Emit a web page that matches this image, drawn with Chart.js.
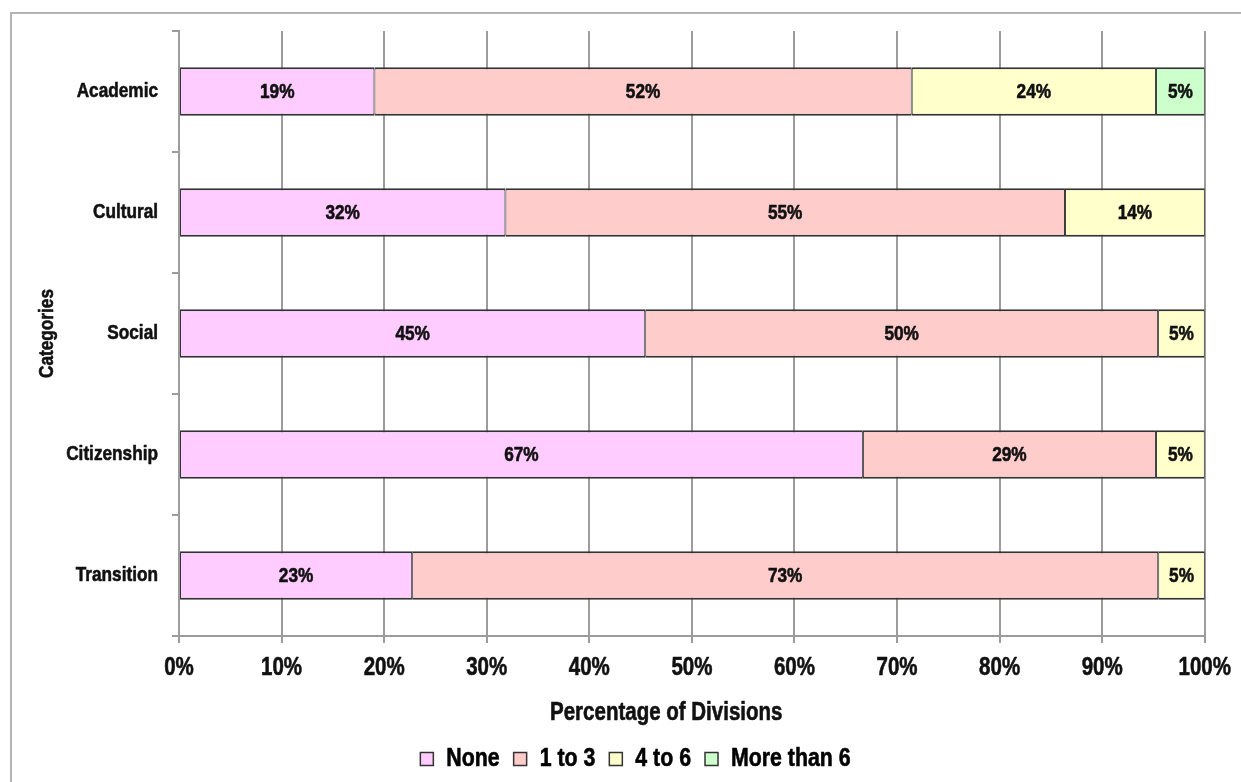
<!DOCTYPE html>
<html>
<head>
<meta charset="utf-8">
<script src="https://cdn.jsdelivr.net/npm/chart.js@4/dist/chart.umd.min.js"></script>
<style>
  html, body { margin: 0; padding: 0; background: #fff; overflow: hidden; }
  #frame { position: absolute; left: 10px; top: 12px; width: 1400px; height: 900px; border: 2px solid #b4b4b4; box-sizing: border-box; }
  #wrap { position: absolute; left: 0; top: 0; width: 1241px; height: 782px; }
</style>
</head>
<body>
<div id="frame"></div>
<div id="wrap"><canvas id="c" width="1241" height="782"></canvas></div>
<script>
const categories = ['Academic', 'Cultural', 'Social', 'Citizenship', 'Transition'];
const seriesNames = ['None', '1 to 3', '4 to 6', 'More than 6'];
const noneValues = [19.05, 31.82, 45.45, 66.67, 22.73];
const oneToThreeValues = [52.38, 54.55, 50.00, 28.57, 72.73];
const fourToSixValues = [23.81, 13.64, 4.55, 4.76, 4.55];
const moreThanSixValues = [4.76, null, null, null, null];
const xTickLabels = ['0%', '10%', '20%', '30%', '40%', '50%', '60%', '70%', '80%', '90%', '100%'];
const xAxisTitle = 'Percentage of Divisions';
const yAxisTitle = 'Categories';

const FONT = "'Liberation Sans', Arial, sans-serif";
const colors = ['#FFCCFF', '#FFCCCC', '#FFFFCC', '#CCFFCC'];
const seriesValues = [noneValues, oneToThreeValues, fourToSixValues, moreThanSixValues];

// Simulate a narrow (condensed) heavy bold face: compress text horizontally.
const canvas = document.getElementById('c');
const ctx2d = canvas.getContext('2d');
const SX = 0.82;
const origFill = ctx2d.fillText.bind(ctx2d);
const origStroke = ctx2d.strokeText.bind(ctx2d);
const origMeasure = ctx2d.measureText.bind(ctx2d);
ctx2d.fillText = function (text, x, y, maxWidth) {
  this.save();
  this.translate(x, y);
  this.scale(SX, 1);
  origFill(text, 0, 0);
  this.lineWidth = 0.6;
  this.lineJoin = 'round';
  this.strokeStyle = this.fillStyle;
  origStroke(text, 0, 0);
  this.restore();
};
ctx2d.measureText = function (text) {
  const m = origMeasure(text);
  return {
    width: m.width * SX,
    actualBoundingBoxAscent: m.actualBoundingBoxAscent,
    actualBoundingBoxDescent: m.actualBoundingBoxDescent,
    actualBoundingBoxLeft: m.actualBoundingBoxLeft * SX,
    actualBoundingBoxRight: m.actualBoundingBoxRight * SX,
    fontBoundingBoxAscent: m.fontBoundingBoxAscent,
    fontBoundingBoxDescent: m.fontBoundingBoxDescent
  };
};

const barLabels = {
  id: 'barLabels',
  afterDatasetsDraw(chart) {
    const ctx = chart.ctx;
    ctx.save();
    ctx.font = "bold 21px " + FONT;
    ctx.fillStyle = '#111';
    ctx.textAlign = 'center';
    ctx.textBaseline = 'middle';
    chart.data.datasets.forEach((ds, i) => {
      const meta = chart.getDatasetMeta(i);
      meta.data.forEach((el, j) => {
        const v = ds.data[j];
        if (v === null || v === undefined || v === 0) return;
        const p = el.getCenterPoint();
        ctx.fillText(Math.round(v) + '%', p.x, p.y + 1);
      });
    });
    ctx.restore();
  }
};

const xTitlePlugin = {
  id: 'xTitle',
  afterDraw(chart) {
    const ctx = chart.ctx;
    const xs = chart.scales.x;
    ctx.save();
    ctx.font = "bold 25px " + FONT;
    ctx.fillStyle = '#111';
    ctx.textAlign = 'center';
    ctx.textBaseline = 'middle';
    ctx.fillText(xAxisTitle, xs.left + xs.width * 0.475, xs.bottom - 19);
    ctx.restore();
  }
};

Chart.defaults.font.family = FONT;
Chart.defaults.font.weight = 'bold';
Chart.defaults.color = '#111';

new Chart(canvas, {
  type: 'bar',
  data: {
    labels: categories,
    datasets: seriesNames.map((name, i) => ({
      label: name,
      data: seriesValues[i],
      backgroundColor: colors[i],
      borderColor: '#333333',
      borderWidth: { top: 2, bottom: 2, left: 1, right: 1 },
      borderSkipped: false,
      categoryPercentage: 0.8,
      barPercentage: 0.5
    }))
  },
  options: {
    indexAxis: 'y',
    responsive: false,
    animation: false,
    devicePixelRatio: 1,
    layout: { padding: { left: 65, right: 35, top: 31, bottom: 0 } },
    scales: {
      x: {
        stacked: true,
        min: 0,
        max: 100,
        afterFit(scale) { scale.height = 96; },
        ticks: {
          stepSize: 10,
          padding: 10,
          font: { size: 25, weight: 'bold' },
          color: '#111',
          maxRotation: 0,
          callback: (v, i) => xTickLabels[i]
        },
        grid: { color: '#9c9c9c', lineWidth: 2, tickLength: 7 },
        border: { color: '#9c9c9c', width: 2 }
      },
      y: {
        stacked: true,
        afterFit(scale) { scale.width = 114; },
        ticks: {
          padding: 14,
          font: { size: 21, weight: 'bold' },
          color: '#111'
        },
        grid: { drawOnChartArea: false, color: '#9c9c9c', lineWidth: 2, tickLength: 7, offset: true },
        border: { color: '#9c9c9c', width: 2 },
        title: {
          display: true,
          text: yAxisTitle,
          font: { size: 21, weight: 'bold' },
          color: '#111',
          padding: { top: -30, bottom: 0 }
        }
      }
    },
    plugins: {
      legend: {
        position: 'bottom',
        labels: {
          boxWidth: 13,
          boxHeight: 13,
          padding: 14,
          font: { size: 26, weight: 'bold' },
          color: '#111',
          generateLabels(chart) {
            return chart.data.datasets.map((ds, i) => ({
              text: ds.label,
              fillStyle: ds.backgroundColor,
              strokeStyle: '#333',
              lineWidth: 1.5,
              datasetIndex: i,
              hidden: false
            }));
          }
        }
      },
      tooltip: { enabled: false }
    }
  },
  plugins: [barLabels, xTitlePlugin]
});
</script>
</body>
</html>
